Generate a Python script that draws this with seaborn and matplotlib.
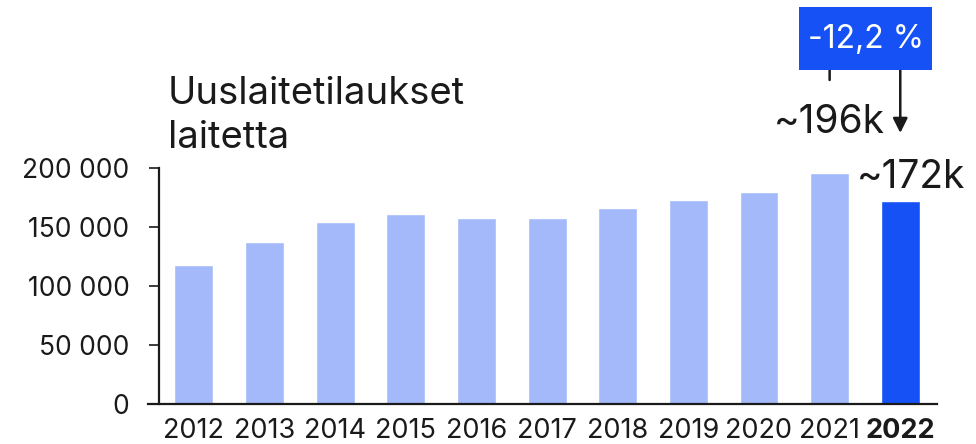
import matplotlib
matplotlib.use("Agg")
import matplotlib.pyplot as plt
from matplotlib.patches import Rectangle
import seaborn as sns
import pandas as pd

# ---------------------------------------------------------------------------
# Data
# ---------------------------------------------------------------------------
years = ["2012", "2013", "2014", "2015", "2016", "2017",
         "2018", "2019", "2020", "2021", "2022"]
orders = [118000, 137000, 154000, 160800, 157600, 157600,
          165800, 172900, 179900, 196000, 172000]
y_ticks = [0, 50000, 100000, 150000, 200000]
y_tick_labels = ["0", "50 000", "100 000", "150 000", "200 000"]
title_text = "Uuslaitetilaukset\nlaitetta"
change_text = "-12,2 %"
prev_label = "~196k"
last_label = "~172k"

LIGHT = "#a4b9fa"
DARK = "#1651f6"
INK = "#1a1a1a"

sns.set_style("white")
plt.rcParams["font.family"] = ["Inter", "DejaVu Sans"]

df = pd.DataFrame({"year": years, "orders": orders})
palette = {y: LIGHT for y in years}
palette[years[-1]] = DARK

fig = plt.figure(figsize=(9.76, 4.44), dpi=100)
W, H = 976, 444
ax = fig.add_axes([148 / W, 1 - 404 / H, (937 - 148) / W, (404 - 168) / H])

sns.barplot(data=df, x="year", y="orders", hue="year", palette=palette,
            legend=False, width=0.55, ax=ax, saturation=1)

ax.set_xlim(-0.65, 10.52)
ax.set_ylim(0, 200000)
ax.set_xlabel("")
ax.set_ylabel("")

# --- Axes styling ---
for side in ("top", "right"):
    ax.spines[side].set_visible(False)
ax.spines["left"].set_position(("data", -0.5))
ax.spines["left"].set_bounds(0, 200000)
for side in ("left", "bottom"):
    ax.spines[side].set_color(INK)
    ax.spines[side].set_linewidth(1.6)

ax.set_yticks(y_ticks)
ax.set_yticklabels(y_tick_labels)
ax.tick_params(axis="y", length=7, width=1.2, color=INK, labelsize=19,
               labelcolor=INK, pad=14, left=True)
ax.tick_params(axis="x", length=0, labelsize=19.5, labelcolor=INK, pad=10)
ax.get_xticklabels()[-1].set_fontweight("bold")

# --- Title ---
fig.text(168 / W, 1 - 76 / H, title_text, fontsize=27.5, color=INK,
         va="top", ha="left", linespacing=1.3)

# --- Value labels ---
ax.annotate(prev_label, xy=(9, orders[9]), xytext=(40, 36),
            textcoords="offset points", ha="right", va="center",
            fontsize=28, color=INK, annotation_clip=False)
ax.annotate(last_label, xy=(10, orders[10]), xytext=(-31, 17),
            textcoords="offset points", ha="left", va="center",
            fontsize=28, color=INK, annotation_clip=False)

# --- Change box with arrow ---
fig.patches.append(Rectangle((799 / W, 1 - 70 / H), 133 / W, 63 / H,
                             transform=fig.transFigure, fc=DARK, ec="none"))
fig.text(866 / W, 1 - 40 / H, change_text, fontsize=23, color="white",
         ha="center", va="center")
ax.annotate("", xy=(10, orders[9] + 33700), xytext=(10, orders[9] + 87000),
            arrowprops=dict(arrowstyle="-|>", color=INK, lw=1.8,
                            mutation_scale=22, shrinkA=0, shrinkB=0),
            annotation_clip=False)
ax.annotate("", xy=(9, orders[9] + 78600), xytext=(9, orders[9] + 87000),
            arrowprops=dict(arrowstyle="-", color=INK, lw=1.8,
                            shrinkA=0, shrinkB=0),
            annotation_clip=False)

fig.savefig("out.png", dpi=100)
